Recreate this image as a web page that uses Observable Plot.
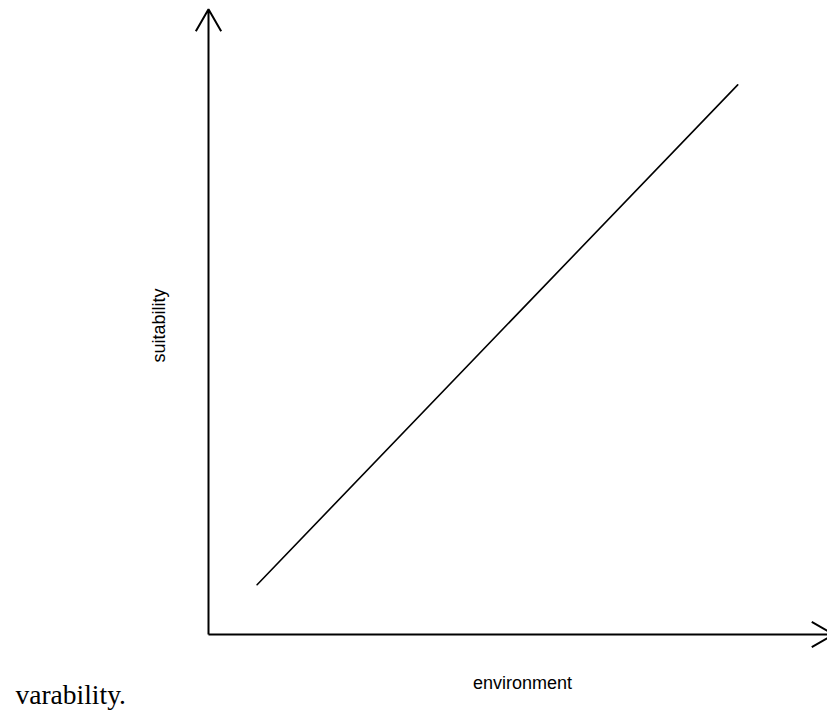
<!DOCTYPE html>
<html>
<head>
<meta charset="utf-8">
<script src="https://cdn.jsdelivr.net/npm/d3@7"></script>
<script src="https://cdn.jsdelivr.net/npm/@observablehq/plot@0.6"></script>
<style>
  html, body { margin: 0; padding: 0; background: #fff; }
</style>
</head>
<body>
<div id="chart"></div>
<script>
// Axis arrows (start and end, in data units)
const axisX1 = [0, 0];
const axisY1 = [0, 0];
const axisX2 = [1.042, 0];
const axisY2 = [0, 1.042];

// Straight suitability line
const lineEnv = [0.081, 0.882];
const lineSuit = [0.083, 0.916];

// Texts
const xLabel = "environment";
const yLabel = "suitability";
const captionText = "varability.";

const axes = axisX1.map((d, i) => ({x1: d, y1: axisY1[i], x2: axisX2[i], y2: axisY2[i]}));
const line = lineEnv.map((d, i) => ({x: d, y: lineSuit[i]}));

const chart = Plot.plot({
  width: 827,
  height: 715,
  marginLeft: 208,
  marginRight: 19,
  marginTop: 34,
  marginBottom: 81,
  x: {domain: [0, 1], axis: null},
  y: {domain: [0, 1], axis: null},
  style: {background: "white"},
  marks: [
    Plot.arrow(axes, {
      x1: "x1", y1: "y1", x2: "x2", y2: "y2",
      stroke: "black", strokeWidth: 2, headAngle: 60, headLength: 19,
      strokeLinecap: "butt", strokeLinejoin: "miter"
    }),
    Plot.line(line, {x: "x", y: "y", stroke: "black", strokeWidth: 1.6}),
    Plot.text([xLabel], {
      text: d => d, frameAnchor: "bottom", textAnchor: "middle", lineAnchor: "middle",
      dx: 14, dy: 49, fontSize: 18, fontFamily: "Liberation Sans, Arial, sans-serif", fill: "black"
    }),
    Plot.text([yLabel], {
      text: d => d, frameAnchor: "left", textAnchor: "middle", lineAnchor: "middle", rotate: -90,
      dx: -49.5, dy: -9, fontSize: 18, fontFamily: "Liberation Sans, Arial, sans-serif", fill: "black"
    }),
    Plot.text([captionText], {
      text: d => d, frameAnchor: "bottom-left", textAnchor: "start", lineAnchor: "bottom",
      dx: -193, dy: 69, fontSize: 27.5, fontFamily: "Liberation Serif, Times New Roman, serif", fill: "black"
    })
  ]
});
document.getElementById("chart").appendChild(chart);
</script>
</body>
</html>
